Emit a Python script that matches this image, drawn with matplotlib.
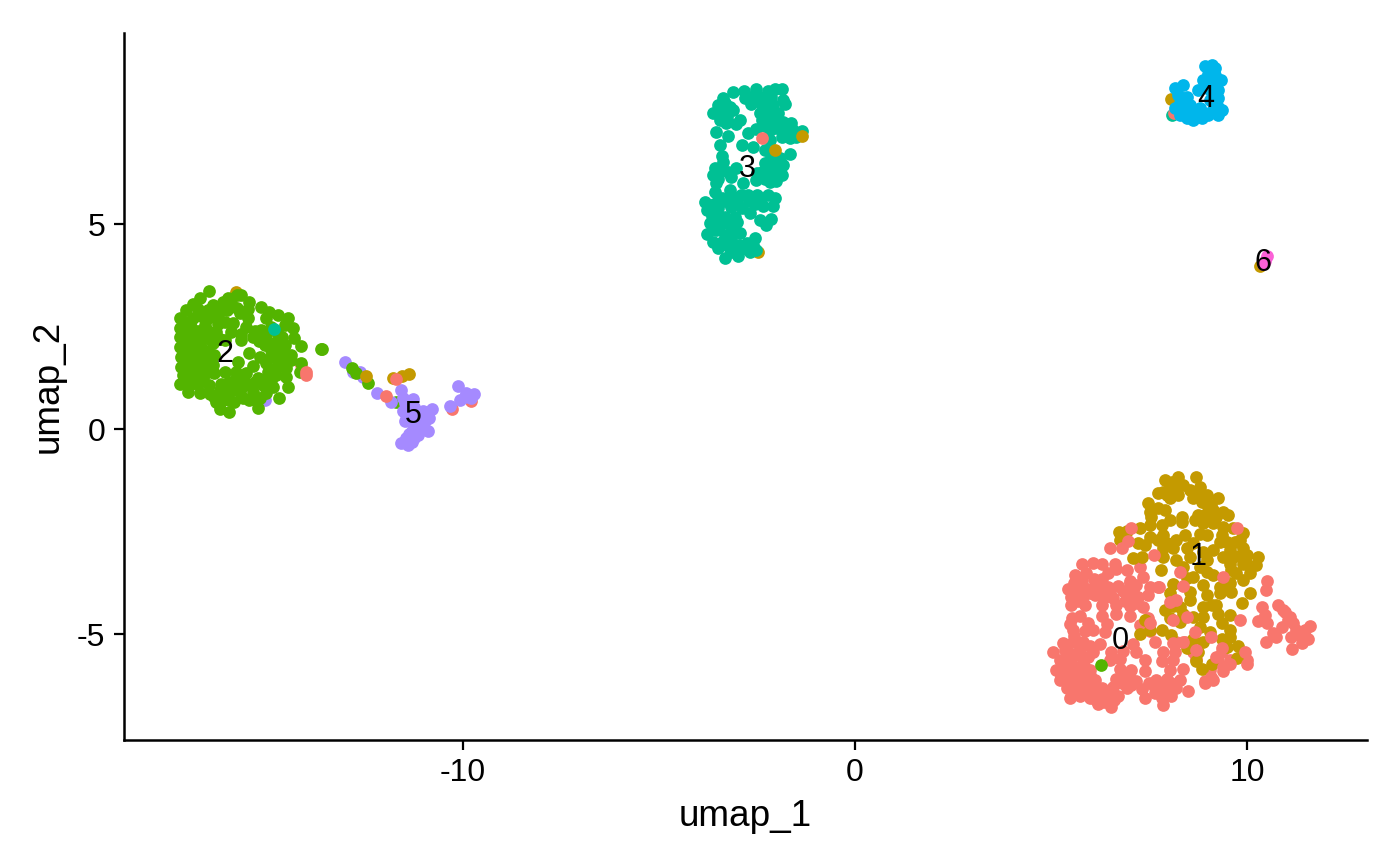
import matplotlib
matplotlib.use('Agg')
import matplotlib.pyplot as plt

plt.rcParams['font.family'] = ['Liberation Sans', 'DejaVu Sans']

# cluster colours (ggplot hue palette)
colors = ['#F8766D', '#C49A00', '#53B400', '#00C094', '#00B6EB', '#A58AFF', '#FB61D7']

# values, (umap_1, umap_2)
cluster0 = [
    (5.78,-3.3),(6.08,-3.26),(6.29,-3.28),(6.63,-3.3),(6.93,-3.44),(7.27,-3.36),
    (5.61,-3.55),(5.9,-3.52),(6.46,-3.5),(6.67,-3.42),(7.01,-3.7),(7.35,-3.62),
    (5.44,-3.9),(5.69,-3.85),(5.95,-3.9),(6.2,-3.82),(6.46,-3.85),(6.71,-3.84),(7.01,-3.75),(7.18,-3.8),(7.52,-3.85),(7.73,-3.85),
    (5.52,-4.1),(5.82,-4.08),(6.12,-4.05),(6.37,-4.1),(6.59,-4.12),(6.97,-4.05),(7.22,-4.1),(7.48,-4.05),
    (5.52,-4.3),(5.86,-4.3),(6.29,-4.28),(6.67,-4.3),(7.01,-4.32),(7.35,-4.35),
    (5.74,-4.55),(6.29,-4.55),(6.67,-4.5),(7.01,-4.55),(7.48,-4.6),
    (5.48,-4.75),(5.95,-4.72),(6.42,-4.75),(7.26,-4.78),
    (5.57,-4.9),(5.86,-4.92),(6.08,-4.9),(6.37,-4.95),(7.52,-4.92),
    (5.31,-5.22),(5.57,-5.2),(5.82,-5.2),(6.25,-5.25),(7.1,-5.25),(7.65,-5.2),(8.2,-5.2),(8.41,-5.2),
    (5.06,-5.43),(5.44,-5.43),(5.74,-5.4),(6.08,-5.45),(6.54,-5.43),(6.84,-5.41),(7.18,-5.45),(7.86,-5.43),(8.16,-5.45),(8.63,-5.43),(9.35,-5.45),
    (5.23,-5.63),(5.52,-5.6),(5.82,-5.65),(6.5,-5.63),(6.76,-5.61),(7.39,-5.63),(7.82,-5.66),(8.12,-5.63),(8.71,-5.6),(9.26,-5.65),(9.56,-5.63),(9.99,-5.63),
    (5.14,-5.88),(5.4,-5.85),(5.69,-5.9),(5.99,-5.88),(6.76,-5.86),(7.05,-5.88),(7.39,-5.9),(8.03,-5.88),(8.37,-5.86),(9.05,-5.88),(9.39,-5.9),
    (5.23,-6.12),(5.52,-6.1),(5.82,-6.14),(6.12,-6.12),(6.67,-6.1),(6.93,-6.12),(7.18,-6.14),(7.69,-6.12),(7.95,-6.1),(8.29,-6.12),(8.92,-6.14),(9.14,-6.12),
    (5.4,-6.32),(5.74,-6.3),(6.03,-6.34),(6.29,-6.32),(6.59,-6.3),(6.93,-6.32),(7.31,-6.34),(7.65,-6.32),(7.9,-6.3),(8.2,-6.32),(8.5,-6.4),
    (5.48,-6.57),(5.74,-6.5),(5.99,-6.55),(6.25,-6.57),(6.5,-6.52),(6.71,-6.5),(7.39,-6.57),(7.82,-6.55),(8.07,-6.52),
    (6.2,-6.7),(6.54,-6.77),(7.86,-6.72),
    (5.35,-5.4),(5.6,-5.5),(5.95,-5.55),(5.3,-5.75),(5.55,-5.75),(5.85,-5.78),(5.25,-6.0),(5.5,-6.0),(5.75,-6.0),(6.0,-6.0),
    (5.4,-6.2),(5.65,-6.2),(5.95,-6.22),(5.6,-6.45),(5.85,-6.42),(6.1,-6.45),(6.4,-6.42),(6.15,-6.6),(6.35,-6.65),(6.6,-6.6),
    (6.8,-6.2),(7.05,-6.25),(7.65,-6.45),(7.9,-6.45),(8.05,-6.2),(7.75,-6.25),(7.5,-6.2),(7.0,-6.0),(6.85,-6.0),
    (5.6,-3.75),(5.8,-3.7),(6.1,-3.65),(6.3,-3.65),(6.0,-4.0),(6.25,-3.95),(6.5,-3.95),(5.65,-4.0),(6.85,-3.95),(7.1,-3.95),
    (7.2,-4.25),(6.9,-4.2),(5.7,-4.2),(5.55,-4.6),(5.6,-5.05),(5.75,-5.35),(6.0,-5.3),
]
cluster1 = [
    (7.9,-1.24),(8.24,-1.16),(8.69,-1.18),(8.03,-1.41),(8.37,-1.37),(7.86,-1.53),(7.73,-1.55),(8.12,-1.57),(8.54,-1.49),(8.8,-1.41),
    (8.03,-1.69),(8.63,-1.69),(8.97,-1.61),(9.26,-1.69),(8.84,-1.77),(9.09,-1.85),(7.48,-1.81),(7.52,-2.02),(7.73,-1.93),(7.9,-1.98),
    (7.56,-2.14),(8.03,-2.22),(8.33,-2.14),(8.33,-2.26),(8.67,-2.22),(8.92,-2.1),(9.14,-1.98),(9.39,-2.02),(9.52,-2.1),(8.88,-2.3),
    (9.14,-2.3),(9.39,-2.38),(9.65,-2.42),(7.82,-2.34),(7.52,-2.34),(7.86,-2.59),(8.41,-2.59),(8.8,-2.55),(8.97,-2.59),(9.35,-2.59),
    (9.9,-2.53),(6.74,-2.5),(6.76,-2.71),(7.27,-2.42),(6.93,-2.48),(7.22,-2.77),(7.39,-2.83),(7.52,-2.64),(7.73,-2.71),(7.95,-2.79),
    (8.2,-2.71),(8.63,-2.79),(9.31,-2.75),(9.82,-2.71),(7.1,-3.15),(7.31,-3.13),(7.86,-2.91),(8.12,-2.91),(8.46,-2.91),(8.88,-2.99),
    (9.14,-2.95),(9.56,-2.95),(9.9,-2.91),(7.86,-3.11),(8.2,-3.2),(8.54,-3.11),(8.97,-3.2),(9.39,-3.11),(9.65,-3.11),(9.99,-3.07),
    (10.28,-3.11),(7.8,-3.44),(8.37,-3.36),(8.8,-3.36),(8.97,-3.48),(9.14,-3.56),(9.56,-3.28),(9.9,-3.28),(10.24,-3.32),(8.63,-3.6),
    (8.46,-3.64),(9.73,-3.52),(10.07,-3.52),(8.88,-3.8),(9.31,-3.85),(8.12,-3.78),(9.56,-3.76),(9.9,-3.68),(8.54,-3.97),(8.03,-4.01),
    (8.97,-4.05),(9.31,-4.01),(9.6,-3.97),(10.07,-3.99),(9.86,-4.25),(8.54,-4.17),(8.29,-4.33),(8.12,-4.32),(7.9,-4.41),(8.88,-4.33),
    (9.22,-4.29),(8.37,-4.5),(8.63,-4.58),(8.88,-4.58),(9.26,-4.5),(9.56,-4.54),(8.03,-4.62),(8.29,-4.7),(8.8,-4.82),(9.35,-4.74),
    (7.39,-4.66),(7.82,-4.9),(7.27,-5.01),(7.52,-4.9),(8.06,-5.03),(9.05,-4.94),(9.56,-4.9),(8.63,-5.11),(8.88,-5.19),(9.35,-5.11),
    (9.56,-5.07),(9.77,-5.29),(8.46,-5.35),(8.75,-5.45),(8.69,-5.66),(9.12,-5.72),(9.75,-5.58),(8.85,-5.86),(9.48,-5.31),
    (8.1,-1.3),(8.2,-1.45),(7.95,-1.6),(8.25,-1.6),(8.7,-1.55),(9.0,-1.9),(9.2,-2.15),(8.75,-2.1),(9.7,-2.75),(9.5,-2.75),
    (9.6,-3.45),(9.8,-3.1),(10.0,-3.3),(9.45,-3.9),(9.1,-4.3),
]
# salmon points that sit on top of the gold ones, plus the right lobe
cluster0_top = [
    (10.5,-3.7),(10.48,-3.93),(10.39,-4.33),(10.78,-4.28),(10.27,-4.68),(10.51,-4.74),(10.45,-4.54),(10.96,-4.46),(11.09,-4.58),(10.88,-4.82),
    (11.18,-4.74),(11.26,-4.9),(11.47,-4.9),(11.6,-4.81),(10.67,-4.98),(10.48,-5.19),(10.75,-5.07),(11.13,-5.07),(11.39,-5.23),(11.15,-5.37),
    (11.56,-5.11),(11.35,-5.02),(11.05,-4.66),(10.92,-4.41),
    (7.05,-2.42),(6.97,-2.73),(6.5,-2.89),(6.81,-2.91),(7.62,-3.07),(8.29,-3.48),(9.39,-3.6),(9.75,-2.42),(8.37,-3.83),(7.76,-3.85),
    (8.03,-4.21),(8.2,-4.17),(8.12,-4.66),(7.52,-4.74),(8.46,-4.58),(8.67,-4.94),(9.82,-4.66),(8.92,-6.2),(9.09,-6.04),(9.39,-5.8),
    (9.22,-5.55),(9.56,-5.72),(9.99,-5.72),(9.94,-5.45),(9.35,-5.35),(9.09,-5.07),(8.37,-5.19),(8.71,-5.39),(8.12,-5.23),
]
cluster2 = [
    (-16.47,3.37),(-15.65,3.28),(-15.76,3.27),(-16.71,3.19),(-15.99,3.19),(-16.88,3.06),(-16.37,3.02),(-16.11,3.11),(-15.9,3.07),(-15.44,3.11),
    (-15.48,2.94),(-15.14,2.98),(-17.05,2.9),(-16.75,2.94),(-16.5,2.9),(-14.93,2.86),(-14.71,2.78),(-14.46,2.72),(-17.22,2.7),(-16.88,2.7),
    (-16.63,2.74),(-16.24,2.78),(-15.69,2.82),(-15.48,2.7),(-15.01,2.7),(-17.22,2.46),(-16.92,2.5),(-16.58,2.54),(-16.07,2.62),(-15.86,2.58),
    (-15.52,2.5),(-15.14,2.41),(-14.54,2.54),(-14.33,2.46),(-17.22,2.25),(-16.92,2.29),(-16.63,2.25),(-16.29,2.37),(-15.9,2.37),(-15.65,2.33),
    (-15.35,2.25),(-15.01,2.29),(-14.71,2.33),(-14.29,2.21),(-17.22,2.01),(-16.97,2.05),(-16.67,2.01),(-16.37,2.09),(-16.07,2.17),(-15.65,2.17),
    (-15.05,2.05),(-14.8,2.09),(-14.54,2.05),(-14.12,2.03),(-13.61,1.94),(-17.18,1.76),(-16.88,1.76),(-16.63,1.76),(-16.33,1.81),(-15.44,1.85),
    (-15.18,1.76),(-14.88,1.93),(-14.63,1.89),(-14.37,1.81),(-17.18,1.52),(-16.92,1.52),(-16.67,1.48),(-15.01,1.6),(-14.71,1.68),(-14.37,1.68),
    (-14.12,1.6),(-17.14,1.32),(-16.88,1.28),(-16.37,1.56),(-15.73,1.63),(-15.35,1.54),(-14.97,1.4),(-14.5,1.48),(-17.22,1.11),(-16.92,1.11),
    (-16.63,1.24),(-16.33,1.36),(-16.07,1.4),(-15.78,1.4),(-15.52,1.36),(-15.22,1.24),(-14.76,1.32),(-14.5,1.28),(-14.16,1.38),(-17.01,0.91),
    (-16.71,0.87),(-16.46,1.07),(-16.16,1.11),(-15.82,1.16),(-15.48,1.11),(-15.1,1.07),(-14.84,1.03),(-14.46,1.03),(-16.33,0.79),(-16.03,0.91),
    (-15.69,0.91),(-15.35,0.91),(-15.01,0.87),(-14.69,0.75),(-16.2,0.5),(-15.96,0.42),(-15.22,0.52),(-16.29,0.67),(-15.82,0.67),(-15.44,0.71),(-15.18,0.75),
    (-17.05,2.6),(-17.05,2.35),(-17.1,2.15),(-17.05,1.9),(-17.05,1.65),(-17.05,1.4),(-17.05,1.2),(-16.75,2.4),(-16.75,2.15),(-16.75,1.9),
    (-16.75,1.6),(-16.75,1.35),(-16.75,1.1),(-16.5,2.7),(-16.5,2.4),(-16.45,2.2),(-16.5,1.9),(-16.5,1.65),(-16.5,1.4),(-16.25,2.55),
    (-16.2,2.2),(-16.2,0.95),(-15.95,1.15),(-15.7,1.2),(-15.3,1.15),(-15.0,1.2),(-16.45,0.85),(-16.1,0.7),(-15.95,0.7),(-15.6,0.75),
    (-15.3,0.72),(-14.9,1.2),(-16.3,2.95),(-16.0,2.9),(-15.75,2.95),(-15.3,2.4),(-15.2,2.15),(-14.9,2.5),(-14.6,2.25),(-14.5,1.65),
    (-14.75,1.5),(-14.9,1.75),(-15.6,1.05),(-15.85,0.95),
]
cluster3 = [
    (-3.1,8.21),(-2.82,8.24),(-2.51,8.29),(-2.21,8.24),(-2.04,8.29),(-1.85,8.29),(-3.36,8.07),(-2.81,8.07),(-2.43,8.11),(-2.13,8.11),
    (-1.83,8.02),(-3.49,7.9),(-3.19,7.86),(-2.64,7.94),(-2.38,7.9),(-2.09,7.9),(-1.79,7.94),(-3.62,7.72),(-3.36,7.7),(-3.1,7.78),
    (-2.43,7.7),(-2.17,7.74),(-3.45,7.54),(-3.28,7.46),(-2.94,7.54),(-3.02,7.43),(-2.38,7.54),(-2.09,7.58),(-1.83,7.5),(-1.62,7.46),
    (-3.53,7.25),(-3.23,7.15),(-2.72,7.21),(-2.51,7.33),(-2.17,7.29),(-1.87,7.33),(-1.58,7.29),(-1.34,7.27),(-3.45,6.93),(-2.87,6.94),
    (-2.6,6.89),(-2.17,7.05),(-1.87,7.13),(-1.66,7.09),(-1.49,7.13),(-1.66,6.72),(-2.3,6.8),(-3.4,6.67),(-3.57,6.36),(-3.36,6.52),
    (-2.13,6.64),(-1.92,6.6),(-1.83,6.44),(-3.62,6.2),(-3.23,6.28),(-3.02,6.36),(-2.3,6.48),(-2.38,6.28),(-2.09,6.24),(-3.53,5.99),
    (-3.15,6.15),(-2.51,6.07),(-2.17,6.03),(-1.87,6.2),(-3.19,5.83),(-2.85,5.99),(-3.57,5.79),(-3.83,5.54),(-3.4,5.63),(-3.1,5.67),
    (-2.72,5.71),(-2.43,5.59),(-2.21,5.71),(-2.04,5.63),(-2.09,5.45),(-3.78,5.34),(-3.49,5.38),(-3.15,5.42),(-2.89,5.38),(-2.55,5.5),
    (-3.7,5.02),(-3.32,5.18),(-3.06,5.18),(-2.68,5.26),(-2.43,5.1),(-2.13,5.12),(-2.27,4.98),(-3.78,4.75),(-3.45,4.98),(-3.1,4.93),
    (-3.62,4.57),(-3.32,4.73),(-2.94,4.77),(-2.55,4.67),(-3.49,4.41),(-3.06,4.49),(-2.76,4.53),(-3.32,4.18),(-2.98,4.22),(-3.15,4.33),(-2.68,4.33),(-2.51,4.37),
    (-3.3,7.95),(-3.25,7.6),(-3.45,7.75),(-2.65,8.1),(-2.3,7.95),(-2.2,7.55),(-1.95,7.7),(-2.0,7.35),(-1.75,7.25),(-2.3,7.4),
    (-3.5,6.1),(-3.4,6.35),(-2.2,6.3),(-2.5,6.25),(-2.3,6.1),(-2.0,6.45),(-2.0,6.05),(-3.0,5.55),(-3.6,5.5),(-3.3,5.55),
    (-2.9,5.7),(-3.65,5.2),(-3.45,5.15),(-3.2,5.0),(-3.55,4.85),(-3.2,4.7),(-3.0,5.05),(-3.4,4.55),(-3.15,4.6),(-2.75,4.4),
    (-2.95,4.5),(-3.2,4.45),(-2.6,4.5),(-3.5,5.55),(-2.35,5.45),(-2.7,5.55),(-2.5,5.7),
]
cluster4 = [
    (8.93,8.85),(9.1,8.88),(9.18,8.8),(9.01,8.67),(9.18,8.63),(8.89,8.51),(9.06,8.51),(9.33,8.51),(8.16,8.31),(8.38,8.39),
    (8.76,8.27),(8.97,8.31),(9.27,8.27),(8.25,8.15),(8.46,8.11),(9.27,8.07),(8.16,7.82),(8.55,7.9),(8.38,7.74),(9.27,7.86),
    (9.35,7.78),(8.46,7.58),(8.63,7.54),(8.84,7.58),(9.01,7.66),(9.27,7.66),(8.29,7.66),(8.8,7.82),(9.06,8.02),
    (9.05,8.75),(9.1,8.4),(9.1,8.2),(9.1,8.0),(9.1,7.75),(8.7,7.65),(8.5,7.8),(8.6,7.7),(8.9,7.7),(8.3,7.95),(9.2,7.7),
]
cluster5 = [
    (-12.99,1.64),(-12.8,1.4),(-12.61,1.38),(-12.55,1.28),(-12.19,0.89),(-11.82,0.67),(-11.57,0.95),(-11.52,0.75),(-11.27,0.73),(-11.48,0.63),
    (-11.52,0.44),(-11.23,0.54),(-10.78,0.49),(-10.93,0.38),(-11.18,0.34),(-10.85,0.26),(-11.48,0.2),(-11.27,0.14),(-11.02,0.14),(-11.14,-0.02),
    (-10.89,-0.04),(-11.36,-0.11),(-11.23,-0.23),(-11.4,-0.31),(-11.57,-0.33),(-11.4,-0.39),(-10.11,1.05),(-10.32,0.57),(-9.91,0.87),(-9.72,0.85),
    (-10.06,0.72),(-9.78,0.75),(-9.95,0.79),
    (-11.05,0.3),(-11.3,0.3),(-11.2,0.15),(-11.1,0.05),(-11.3,-0.05),(-11.15,-0.15),(-11.45,-0.22),(-11.3,-0.32),(-11.45,0.35),(-10.95,0.2),(-11.0,0.45),
]
cluster6 = [(10.51,4.22),(10.4,4.02),(10.45,4.1)]

# stray points of one cluster sitting in another
stray_under = [
    (1,-15.79,3.35),(3,-14.94,1.29),(5,-15.03,0.71),(0,-14.12,1.56),(2,-11.7,0.65),
    (1,8.05,8.04),(3,8.08,7.66),(0,8.14,7.7),(1,10.33,3.97),(1,-2.48,4.33),
    (0,-10.28,0.48),(0,-9.8,0.68),
]
stray_top = [
    (2,6.27,-5.76),(3,-14.81,2.44),(0,-14.0,1.32),(0,-14.0,1.38),
    (1,-1.36,7.15),(1,-2.03,6.8),(0,-2.38,7.09),
    (2,-13.59,1.94),(2,-12.82,1.5),(2,-12.72,1.36),(2,-12.41,1.12),
    (1,-12.46,1.3),(1,-11.78,1.24),(1,-11.54,1.3),(1,-11.37,1.35),
    (0,-11.71,1.22),(0,-11.95,0.81),
]

label_names = ['0', '1', '2', '3', '4', '5', '6']
label_x = [6.76, 8.75, -16.07, -2.73, 8.95, -11.25, 10.4]
label_y = [-5.17, -3.12, 1.83, 6.34, 8.05, 0.34, 4.06]

fig = plt.figure(figsize=(7, 4.325), dpi=200)
ax = fig.add_axes([123.5/1400, 125/865, 1243.5/1400, 707/865])

size = 21


def draw(points, color):
    ax.scatter([p[0] for p in points], [p[1] for p in points], s=size, c=color, linewidths=0)


for c, x, y in stray_under:
    draw([(x, y)], colors[c])

draw(cluster0, colors[0])
draw(cluster1, colors[1])
draw(cluster0_top, colors[0])
draw(cluster2, colors[2])
draw(cluster3, colors[3])
draw(cluster4, colors[4])
draw(cluster5, colors[5])
draw(cluster6, colors[6])

for c, x, y in stray_top:
    draw([(x, y)], colors[c])

for name, x, y in zip(label_names, label_x, label_y):
    ax.text(x, y, name, ha='center', va='center', fontsize=11, color='black')

ax.set_xlim(-18.65, 13.06)
ax.set_ylim(-7.585, 9.66)
ax.set_xticks([-10, 0, 10])
ax.set_yticks([-5, 0, 5])
ax.set_xticklabels(['-10', '0', '10'])
ax.set_yticklabels(['-5', '0', '5'])
ax.tick_params(labelsize=11.5, length=3.5, width=0.8, pad=3)
ax.set_xlabel('umap_1', fontsize=13.3, labelpad=4)
ax.set_ylabel('umap_2', fontsize=13.3, labelpad=4)
ax.spines['top'].set_visible(False)
ax.spines['right'].set_visible(False)
ax.spines['left'].set_linewidth(0.9)
ax.spines['bottom'].set_linewidth(0.9)

plt.savefig('out.png', dpi=200)
